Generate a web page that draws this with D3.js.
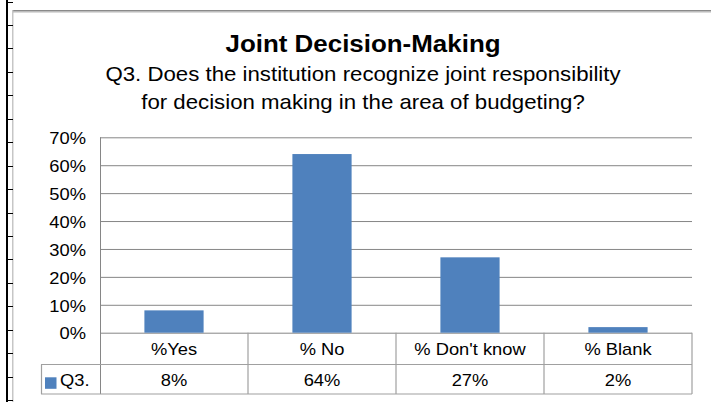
<!DOCTYPE html>
<html>
<head>
<meta charset="utf-8">
<script src="https://cdn.jsdelivr.net/npm/d3@7"></script>
<style>
  html, body { margin: 0; padding: 0; background: #fff; }
  svg { display: block; }
  text { font-family: "Liberation Sans", Arial, sans-serif; fill: #000; }
</style>
</head>
<body>
<svg id="chart" width="711" height="402"></svg>
<script>
// Survey responses for question Q3
const categories = ["%Yes", "% No", "% Don't know", "% Blank"];
const values = [0.08, 0.64, 0.27, 0.02];
const seriesName = "Q3.";
const yTicks = [0, 0.1, 0.2, 0.3, 0.4, 0.5, 0.6, 0.7];
const titleText = "Joint Decision-Making";
const subtitleLines = [
  "Q3. Does the institution recognize joint responsibility",
  "for decision making in the area of budgeting?"
];

const W = 711, H = 402;
const svg = d3.select("#chart");
const stretch = 1.09;            // text is drawn slightly widened
const pct = d3.format(".0%");

const plot = { left: 100, right: 692, top: 137.3, bottom: 332.7 };
const table = { rowMid: 364.5, bottom: 394, legendLeft: 41 };

const gridColor = "#868686";
const tableColor = "#a0a0a0";
const barColor = "#4f81bd";

// page frame: ruler at left, rule along the top
svg.append("rect").attr("x", 13).attr("y", 10).attr("width", W - 13).attr("height", 1.6).attr("fill", "#8a8a8a");
svg.append("rect").attr("x", 13).attr("y", 11.6).attr("width", W - 13).attr("height", 1).attr("fill", "#c4c4c4");
svg.append("rect").attr("x", 12.2).attr("y", 10).attr("width", 1.2).attr("height", H - 10).attr("fill", "#b8b8b8");
svg.append("rect").attr("x", 6).attr("y", 0).attr("width", 2).attr("height", H).attr("fill", "#000");
d3.range(0, 18).forEach(k => {
  const ty = Math.round(1.5 + 23.45 * k) + 0.5;
  svg.append("line").attr("x1", 6).attr("x2", 13).attr("y1", ty).attr("y2", ty)
    .attr("stroke", "#000").attr("stroke-width", 1);
});

function stretchedText(g, x, y, str, opts = {}) {
  return g.append("text")
    .attr("transform", `translate(${x},${y}) scale(${stretch},1)`)
    .attr("text-anchor", opts.anchor || "middle")
    .attr("dominant-baseline", opts.baseline || "auto")
    .style("font-size", (opts.size || 16) + "px")
    .style("font-weight", opts.weight || "normal")
    .text(str);
}

// titles
stretchedText(svg, 363, 52, titleText, { size: 23.8, weight: "bold" });
subtitleLines.forEach((line, i) => stretchedText(svg, 363, 81 + i * 27.7, line, { size: 20.4 }));

// scales
const x = d3.scaleBand().domain(categories).range([plot.left, plot.right]).paddingInner(0.6).paddingOuter(0.3);
const xCell = d3.scaleBand().domain(categories).range([plot.left, plot.right]);
const y = d3.scaleLinear().domain([0, 0.7]).range([plot.bottom, plot.top]);

// value axis with gridlines
const yAxis = svg.append("g")
  .attr("transform", `translate(${plot.left},0)`)
  .call(d3.axisLeft(y).tickValues(yTicks).tickFormat(pct).tickSize(-(plot.right - plot.left)).tickPadding(14));
yAxis.select(".domain").remove();
yAxis.selectAll(".tick line").attr("stroke", gridColor).attr("stroke-width", 1);
yAxis.selectAll(".tick text")
  .attr("x", 0).attr("dy", null)
  .attr("transform", `translate(-14,0.5) scale(${stretch},1)`)
  .attr("dominant-baseline", "central")
  .style("font-size", "16.8px")
  .style("font-family", "'Liberation Sans', Arial, sans-serif")
  .attr("fill", "#000");

// bars
svg.append("g").selectAll("rect")
  .data(categories.map((c, i) => ({ c, v: values[i] })))
  .join("rect")
  .attr("x", d => x(d.c))
  .attr("width", x.bandwidth())
  .attr("y", d => y(d.v))
  .attr("height", d => y(0) - y(d.v))
  .attr("fill", barColor);

// vertical axis line running down through the table
svg.append("line")
  .attr("x1", plot.left + 0.5).attr("x2", plot.left + 0.5)
  .attr("y1", plot.top).attr("y2", table.bottom)
  .attr("stroke", gridColor).attr("stroke-width", 1);

// data table
const tg = svg.append("g");
[table.rowMid, table.bottom].forEach(ly => {
  tg.append("line").attr("x1", table.legendLeft).attr("x2", plot.right)
    .attr("y1", ly).attr("y2", ly).attr("stroke", tableColor).attr("stroke-width", 1.2);
});
tg.append("line").attr("x1", table.legendLeft + 0.5).attr("x2", table.legendLeft + 0.5)
  .attr("y1", table.rowMid).attr("y2", table.bottom).attr("stroke", tableColor).attr("stroke-width", 1.2);
categories.forEach(c => {
  const xr = xCell(c) + xCell.bandwidth();
  tg.append("line").attr("x1", xr).attr("x2", xr)
    .attr("y1", plot.bottom).attr("y2", table.bottom).attr("stroke", tableColor).attr("stroke-width", 1.2);
});

categories.forEach((c, i) => {
  const cx = xCell(c) + xCell.bandwidth() / 2;
  stretchedText(tg, cx, 349, c, { size: 16.8, baseline: "central" });
  stretchedText(tg, cx, 380.5, pct(values[i]), { size: 16.8, baseline: "central" });
});

// legend key in the table
tg.append("rect").attr("x", 45).attr("y", 377.3).attr("width", 11.5).attr("height", 11.5).attr("fill", barColor);
stretchedText(tg, 60, 380.5, seriesName, { size: 16.8, anchor: "start", baseline: "central" });
</script>
</body>
</html>
